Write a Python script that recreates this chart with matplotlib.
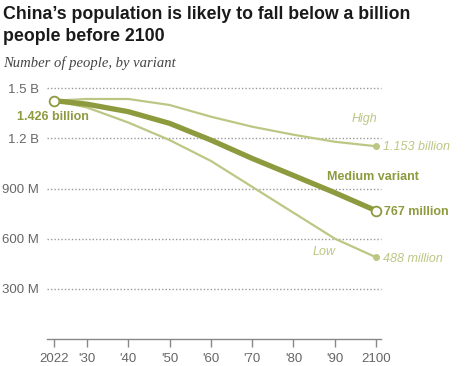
import matplotlib
matplotlib.use("Agg")
import matplotlib.pyplot as plt

years = [2022, 2030, 2040, 2050, 2060, 2070, 2080, 2090, 2100]
medium = [1.426e9, 1.405e9, 1.36e9, 1.29e9, 1.19e9, 1.08e9, 0.978e9, 0.875e9, 0.767e9]
high = [1.426e9, 1.436e9, 1.436e9, 1.40e9, 1.33e9, 1.27e9, 1.222e9, 1.18e9, 1.153e9]
low = [1.426e9, 1.385e9, 1.295e9, 1.19e9, 1.065e9, 0.91e9, 0.755e9, 0.60e9, 0.488e9]

ytick_vals = [300e6, 600e6, 900e6, 1.2e9, 1.5e9]
ytick_labels = ["300 M", "600 M", "900 M", "1.2 B", "1.5 B"]
xtick_vals = [2022, 2030, 2040, 2050, 2060, 2070, 2080, 2090, 2100]
xtick_labels = ["2022", "'30", "'40", "'50", "'60", "'70", "'80", "'90", "2100"]

DARK = "#8e9a3e"
LIGHT = "#bcc784"
GRAY = "#666666"
SANS = ["Liberation Sans", "DejaVu Sans"]

W, H = 465, 366
fig = plt.figure(figsize=(W / 100, H / 100), dpi=100)
ax = fig.add_axes([47 / W, 1 - 338.8 / H, 334 / W, 250.5 / H])
ax.set_xlim(2020.3, 2101.2)
ax.set_ylim(0, 1.5e9)

for v in ytick_vals:
    ax.axhline(v, color="#9a9a9a", lw=1.0, ls=(0, (1, 1.5)), zorder=1, clip_on=False)

ax.plot(years, high, color=LIGHT, lw=1.6, zorder=3, solid_capstyle="round", solid_joinstyle="round")
ax.plot(years, low, color=LIGHT, lw=1.6, zorder=3, solid_capstyle="round", solid_joinstyle="round")
ax.plot(years, medium, color=DARK, lw=3.8, zorder=4, solid_capstyle="round", solid_joinstyle="round")

ax.plot([years[-1]], [high[-1]], "o", ms=4, color=LIGHT, zorder=5, clip_on=False)
ax.plot([years[-1]], [low[-1]], "o", ms=4, color=LIGHT, zorder=5, clip_on=False)
ax.plot([years[0], years[-1]], [medium[0], medium[-1]], "o", ms=7, mfc="white",
        mec=DARK, mew=1.3, zorder=6, clip_on=False)

for s in ["top", "right", "left"]:
    ax.spines[s].set_visible(False)
ax.spines["bottom"].set_color("#888888")
ax.spines["bottom"].set_linewidth(1.0)

ax.set_yticks(ytick_vals)
ax.set_yticklabels(ytick_labels, fontsize=9.5, color=GRAY, family=SANS)
ax.tick_params(axis="y", length=0, pad=6)
ax.set_xticks(xtick_vals)
ax.set_xticklabels(xtick_labels, fontsize=9.5, color=GRAY, family=SANS)
ax.tick_params(axis="x", length=6, color="#888888", width=1.0, pad=4)


def ftext(x, y, s, **kw):
    fig.text(x / W, 1 - y / H, s, **kw)


ftext(17, 117, "1.426 billion", fontsize=9, fontweight="bold", color=DARK,
      family=SANS, va="center", ha="left")
ftext(352, 119, "High", fontsize=9, style="italic", color=LIGHT,
      family=SANS, va="center", ha="left")
ftext(383, 147, "1.153 billion", fontsize=9, style="italic", color=LIGHT,
      family=SANS, va="center", ha="left")
ftext(327, 177, "Medium variant", fontsize=9, fontweight="bold", color=DARK,
      family=SANS, va="center", ha="left")
ftext(384, 212, "767 million", fontsize=9, fontweight="bold", color=DARK,
      family=SANS, va="center", ha="left")
ftext(313, 252, "Low", fontsize=9, style="italic", color=LIGHT,
      family=SANS, va="center", ha="left")
ftext(383, 259, "488 million", fontsize=9, style="italic", color=LIGHT,
      family=SANS, va="center", ha="left")

ftext(3, 6, "China\u2019s population is likely to fall below a billion\npeople before 2100",
      fontsize=12.8, fontweight="bold", color="#1a1a1a", family=SANS,
      va="top", ha="left", linespacing=1.38)
ftext(3, 63, "Number of people, by variant", fontsize=10.5, style="italic",
      color="#444444", family=["Liberation Serif", "DejaVu Serif"], va="center", ha="left")

fig.savefig("out.png", dpi=100)
